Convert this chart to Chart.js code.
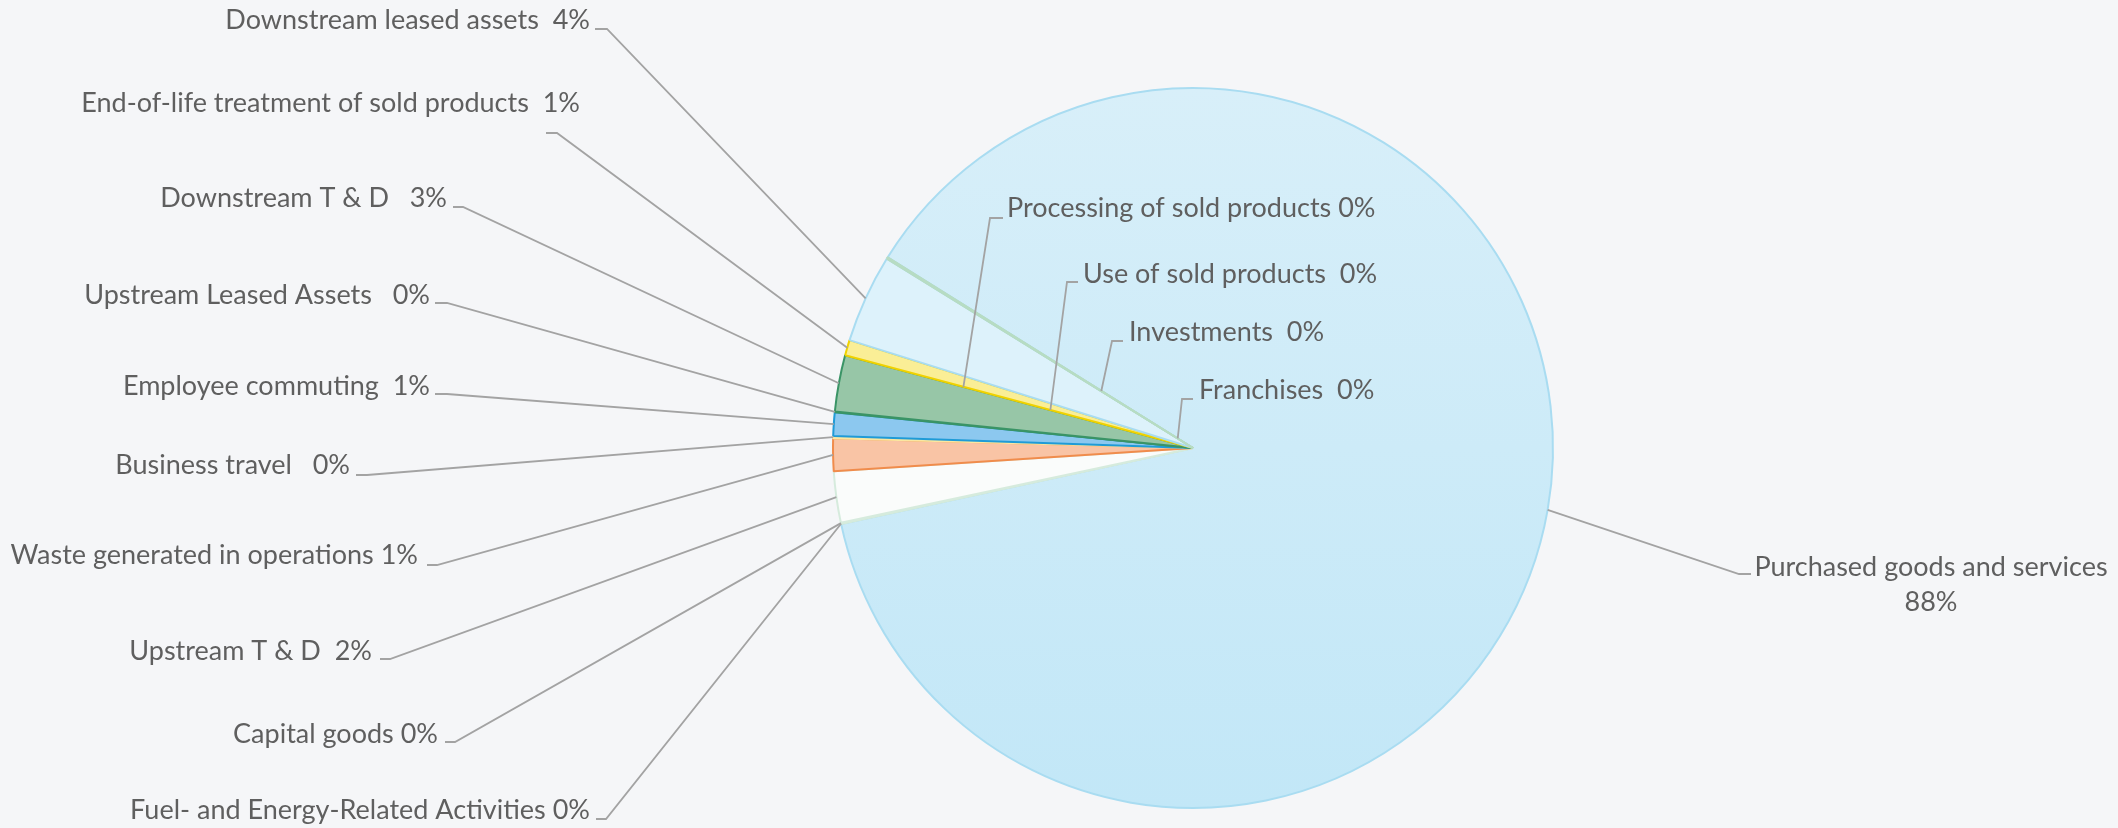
<!DOCTYPE html>
<html>
<head>
<meta charset="utf-8">
<script src="https://cdn.jsdelivr.net/npm/chart.js@4.4.1/dist/chart.umd.min.js"></script>
<style>
html, body { margin: 0; padding: 0; background: #f5f6f8; }
#wrap { width: 2118px; height: 828px; position: relative; }
</style>
</head>
<body>
<div id="wrap"><canvas id="scope3"></canvas></div>
<script>
// Scope 3 emission categories, in drawing order (clockwise)
var categories = [
    'Purchased goods and services',
    'Fuel- and Energy-Related Activities',
    'Capital goods',
    'Upstream T & D',
    'Waste generated in operations',
    'Business travel',
    'Employee commuting',
    'Upstream Leased Assets',
    'Downstream T & D',
    'End-of-life treatment of sold products',
    'Downstream leased assets',
    'Processing of sold products',
    'Use of sold products',
    'Investments',
    'Franchises'
];

// share of total emissions, percent
var shares = [87.8, 0.03, 0.03, 2.3, 1.46, 0.1, 1.06, 0.03, 2.53, 0.7, 3.97, 0.02, 0.02, 0.02, 0.02];

var fills = ['#cbeaf8', '#fbfcfb', '#fbfcfb', '#fafcfb', '#f9c4a5', '#fcf0b8', '#8cc8ef', '#8cc8ef',
    '#97c6a7', '#faee96', '#ddf2fb', '#ddf2fb', '#ddf2fb', '#ddf2fb', '#ddf2fb'];
var borders = ['#a9dcf1', '#d4ebdc', '#d4ebdc', '#d6ebdd', '#f08c4c', '#fbe7a0', '#1f9bd7', '#3a9466',
    '#3a9466', '#f0d200', '#a9dcf1', '#b7dcc3', '#b7dcc3', '#b7dcc3', '#b7dcc3'];

var startAngle = 302;

// label placement: text position, the short tick by the text, and where the leader meets the pie
// (from = take the angle at the start of another slice, depth = fraction of the radius)
var labelLayout = [
    { sep: '\n', x: 1931, y: 567, align: 'center', tick: [1751, 1739, 574], depth: 1 },
    { sep: ' ', x: 590, y: 810, align: 'right', tick: [596, 606, 819], depth: 1 },
    { sep: ' ', x: 438, y: 734, align: 'right', tick: [445, 455, 742], depth: 1 },
    { sep: '  ', x: 372, y: 651, align: 'right', tick: [380, 390, 659], depth: 1 },
    { sep: ' ', x: 418, y: 555, align: 'right', tick: [427, 437, 565], depth: 1 },
    { sep: '   ', x: 350, y: 465, align: 'right', tick: [356, 367, 475], depth: 1 },
    { sep: '  ', x: 430, y: 386, align: 'right', tick: [435, 447, 394], depth: 1 },
    { sep: '   ', x: 430, y: 295, align: 'right', tick: [435, 447, 303], depth: 1 },
    { sep: '   ', x: 447, y: 198, align: 'right', tick: [453, 463, 207], depth: 1 },
    { sep: '  ', x: 580, y: 103, align: 'right', tick: [546, 557, 133], depth: 1 },
    { sep: '  ', x: 590, y: 20, align: 'right', tick: [595, 607, 29], depth: 1 },
    { sep: ' ', x: 1007, y: 208, align: 'left', tick: [1003, 990, 218], depth: 0.66, from: 9 },
    { sep: '  ', x: 1083, y: 274, align: 'left', tick: [1078, 1067, 282], depth: 0.41, from: 9 },
    { sep: '  ', x: 1129, y: 332, align: 'left', tick: [1123, 1112, 341], depth: 0.30 },
    { sep: '  ', x: 1199, y: 390, align: 'left', tick: [1193, 1182, 399], depth: 0.05 }
];

var labelFont = '400 27px Lato, "Open Sans", sans-serif';

var leaderLabels = {
    id: 'leaderLabels',
    afterDatasetsDraw: function(chart) {
        var ctx = chart.ctx;
        var arcs = chart.getDatasetMeta(0).data;
        var total = shares.reduce(function(a, b) { return a + b; }, 0);
        ctx.save();
        labelLayout.forEach(function(lay, i) {
            var arc = lay.from !== undefined ? arcs[lay.from] : arcs[i];
            var angle = lay.from !== undefined ? arc.startAngle : (arc.startAngle + arc.endAngle) / 2;
            var r = arc.outerRadius * lay.depth;
            var ax = arc.x + Math.cos(angle) * r;
            var ay = arc.y + Math.sin(angle) * r;

            ctx.strokeStyle = '#a3a3a3';
            ctx.lineWidth = 1.8;
            ctx.beginPath();
            ctx.moveTo(lay.tick[0], lay.tick[2]);
            ctx.lineTo(lay.tick[1], lay.tick[2]);
            ctx.lineTo(ax, ay);
            ctx.stroke();

            var pct = Math.round(shares[i] / total * 100) + '%';
            var lines = (categories[i] + lay.sep + pct).split('\n');
            ctx.fillStyle = '#5f5f5f';
            ctx.font = labelFont;
            ctx.textAlign = lay.align;
            ctx.textBaseline = 'middle';
            lines.forEach(function(line, k) {
                ctx.fillText(line, lay.x, lay.y + k * 35);
            });
        });
        ctx.restore();
    }
};

function sliceFill(c) {
    if (c.dataIndex !== 0) {
        return fills[c.dataIndex];
    }
    var area = c.chart.chartArea;
    if (!area) {
        return fills[0];
    }
    var g = c.chart.ctx.createLinearGradient(0, area.top, 0, area.bottom);
    g.addColorStop(0, '#d8eff9');
    g.addColorStop(1, '#c2e7f7');
    return g;
}

new Chart(document.getElementById('scope3'), {
    type: 'pie',
    data: {
        labels: categories,
        datasets: [{
            data: shares,
            backgroundColor: sliceFill,
            borderColor: borders,
            borderWidth: 2
        }]
    },
    options: {
        responsive: true,
        maintainAspectRatio: false,
        animation: false,
        rotation: startAngle,
        layout: { padding: { top: 87, bottom: 19, left: 700, right: 432 } },
        plugins: {
            legend: { display: false },
            tooltip: { enabled: false }
        }
    },
    plugins: [leaderLabels]
});
</script>
</body>
</html>
